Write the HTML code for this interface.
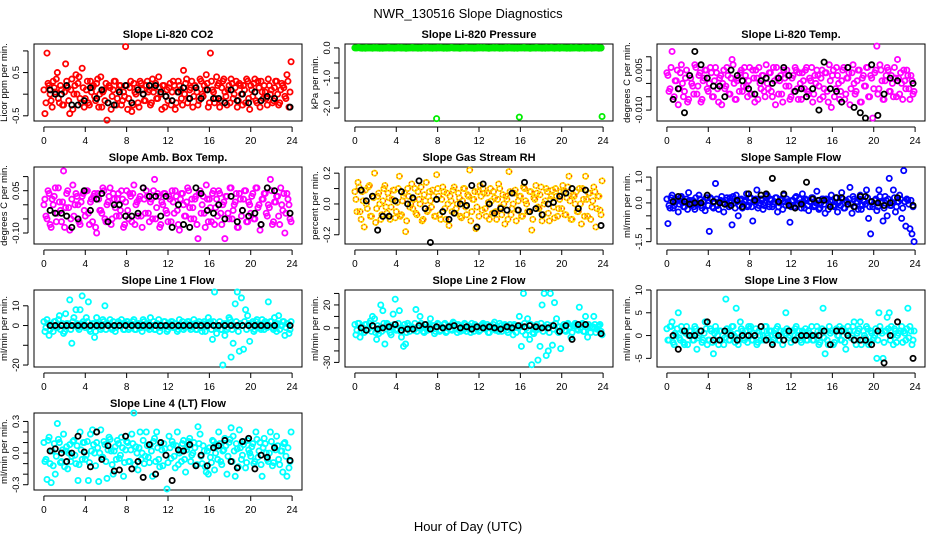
<!DOCTYPE html>
<html><head><meta charset="utf-8"><title>NWR_130516 Slope Diagnostics</title>
<style>
html,body{margin:0;padding:0;background:#fff;}
svg{display:block;font-family:"Liberation Sans",Arial,sans-serif;}
</style></head>
<body>
<svg id="chart" width="936" height="540" viewBox="0 0 936 540" xmlns="http://www.w3.org/2000/svg">
<rect x="0" y="0" width="936" height="540" fill="#fff"/>
<text x="468" y="18" text-anchor="middle" font-size="13">NWR_130516  Slope Diagnostics</text>
<text x="468" y="531" text-anchor="middle" font-size="13">Hour of Day (UTC)</text>
</svg>
<script>
// ---- shared x values (hour of day) ----
const hours = [0.1,0.3,0.5,0.7,0.9,1.1,1.3,1.5,1.7,1.9,2.1,2.3,2.5,2.7,2.9,3.1,3.3,3.5,3.7,3.9,
4.1,4.3,4.5,4.7,4.9,5.1,5.3,5.5,5.7,5.9,6.1,6.3,6.5,6.7,6.9,7.1,7.3,7.5,7.7,7.9,
8.1,8.3,8.5,8.7,8.9,9.1,9.3,9.5,9.7,9.9,10.1,10.3,10.5,10.7,10.9,11.1,11.3,11.5,11.7,11.9,
12.1,12.3,12.5,12.7,12.9,13.1,13.3,13.5,13.7,13.9,14.1,14.3,14.5,14.7,14.9,15.1,15.3,15.5,15.7,15.9,
16.1,16.3,16.5,16.7,16.9,17.1,17.3,17.5,17.7,17.9,18.1,18.3,18.5,18.7,18.9,19.1,19.3,19.5,19.7,19.9,
20.1,20.3,20.5,20.7,20.9,21.1,21.3,21.5,21.7,21.9,22.1,22.3,22.5,22.7,22.9,23.1,23.3,23.5,23.7,23.9];
const hours2 = [0.0,0.2,0.4,0.6,0.8,1.0,1.2,1.4,1.6,1.8,2.0,2.2,2.4,2.6,2.8,3.0,3.2,3.4,3.6,3.8,
4.0,4.2,4.4,4.6,4.8,5.0,5.2,5.4,5.6,5.8,6.0,6.2,6.4,6.6,6.8,7.0,7.2,7.4,7.6,7.8,
8.0,8.2,8.4,8.6,8.8,9.0,9.2,9.4,9.6,9.8,10.0,10.2,10.4,10.6,10.8,11.0,11.2,11.4,11.6,11.8,
12.0,12.2,12.4,12.6,12.8,13.0,13.2,13.4,13.6,13.8,14.0,14.2,14.4,14.6,14.8,15.0,15.2,15.4,15.6,15.8,
16.0,16.2,16.4,16.6,16.8,17.0,17.2,17.4,17.6,17.8,18.0,18.2,18.4,18.6,18.8,19.0,19.2,19.4,19.6,19.8,
20.0,20.2,20.4,20.6,20.8,21.0,21.2,21.4,21.6,21.8,22.0,22.2,22.4,22.6,22.8,23.0,23.2,23.4,23.6,23.8];
const blackHours = [0.6,1.1,1.7,2.2,2.7,3.3,3.9,4.5,5.1,5.6,6.2,6.8,7.3,7.9,8.5,9.1,9.6,10.2,10.8,11.3,
11.8,12.4,13.0,13.5,14.1,14.7,15.2,15.8,16.4,16.9,17.5,18.1,18.7,19.2,19.8,20.4,21.0,21.6,22.3,23.8];
const xTicks = [0,4,8,12,16,20,24];

// ---- series values ----
const co2 = [-.45,.95,.2,-.15,.3,.05,.5,-.2,.1,-.25,.7,.15,-.45,.35,.0,.45,.25,-.1,.6,-.3,
.1,-.2,.3,.15,-.05,.25,-.3,.4,.05,-.15,-.6,.2,-.35,.1,.3,-.1,.2,-.25,.05,1.1,
-.35,.15,-.4,.25,.0,-.2,.3,.1,-.15,.2,.05,-.25,.35,.15,-.1,.4,.0,.2,-.3,.1,
.15,-.25,.3,-.35,.05,.2,-.1,.55,.25,-.2,.1,.3,-.05,.15,-.25,.35,.0,.2,.45,-.3,
.95,.1,-.2,.4,.25,-.15,.3,.05,-.25,.2,.35,-.1,.15,-.3,.25,.0,.2,-.2,.3,-.35,
.1,.25,-.15,.3,-.3,.05,.2,-.1,.35,.0,-.2,.15,.3,-.25,.1,.2,-.05,.45,-.3,.75];
const co2b = [.1,-.2,.25,.0,-.3,.15,.35,-.1,.2,-.25,.05,.3,-.15,.1,-.35,.2,.0,.4,-.2,.15,
-.1,.3,-.25,.05,.2,-.15,.35,.0,-.3,.1,.25,-.2,.15,-.05,.3,-.25,.1,.2,-.15,-.05,
.2,-.1,.3,-.25,.05,.15,-.3,.25,.0,-.15,.3,.1,-.2,.05,.25,-.1,.15,-.35,.2,-.05,
-.15,.25,.05,.2,-.2,.3,.1,-.25,.0,.35,-.1,.15,-.3,.2,.05,-.15,.3,-.05,.1,.25,
-.2,.3,.05,-.1,.2,-.3,.15,.35,-.05,.1,-.2,.25,.0,.3,-.15,.2,-.25,.1,.35,-.1,
.2,-.05,.35,-.2,.15,.3,-.1,.05,-.25,.2,.1,-.15,.3,.0,-.2,.25,.15,-.1,.3,.05];
const co2Black = [.1,0,0,.2,-.25,-.25,-.15,.15,-.1,.1,-.2,-.25,.05,.2,-.2,.1,.0,.2,.2,.05,-.05,-.15,.05,.15,-.1,.15,-.1,.1,-.1,-.1,-.2,.1,-.15,0,-.2,.05,-.15,-.05,-.1,-.3];

const pressure = [0,.01,0,-.01,0,.01,0,0,-.01,0,.01,0,0,-.01,0,0,.01,0,0,0,
0,0,.01,0,-.01,0,0,.01,0,0,-.01,0,0,.01,0,0,0,-.01,0,-2.35,
0,.01,0,0,-.01,0,.01,0,0,0,-.01,0,0,.01,0,0,0,-.01,0,.01,
0,0,.01,0,-.01,0,0,0,.01,0,0,-.01,0,0,.01,0,0,0,-.01,-2.3,
0,.01,0,0,-.01,0,0,.01,0,0,-.01,0,.01,0,0,0,-.01,0,.01,0,
0,0,-.01,0,.01,0,0,0,-.01,0,.01,0,0,0,-.01,0,.01,0,0,-2.28];
const pressureb = [0,0,.01,0,0,-.01,0,0,0,.01,0,0,-.01,0,0,0,.01,0,0,-.01,
0,.01,0,0,0,-.01,0,0,.01,0,0,0,-.01,0,0,.01,0,0,0,0,
.01,0,0,-.01,0,0,0,.01,0,0,0,-.01,0,0,.01,0,0,0,-.01,0,
0,.01,0,0,0,-.01,0,.01,0,0,-.01,0,0,.01,0,0,0,-.01,0,0,
0,0,.01,0,0,-.01,0,0,.01,0,0,0,-.01,0,0,.01,0,0,0,-.01,
.01,0,0,0,-.01,0,0,.01,0,0,0,-.01,0,0,.01,0,0,0,-.01,0];
const pressureBlack = [0,0,0,0,0,0,0,0,0,0,0,0,0,0,0,0,0,0,0,0,0,0,0,0,0,0,0,0,0,0,0,0,0,0,0,0,0,0,0,0];

const licorTemp = [.003,-.002,.012,-.005,.001,-.008,.004,.0,-.003,.005,-.006,.002,-.001,.007,-.004,.003,-.007,.001,.005,-.002,
.0,.004,-.005,.006,-.002,.002,-.008,.005,-.001,.003,-.004,.009,.0,-.006,.002,.004,-.003,.006,-.001,.001,
-.004,.005,-.007,.002,.006,-.002,.003,-.005,.0,.004,-.003,.006,-.008,.002,.001,-.004,.005,-.001,.003,-.006,
.002,-.003,.005,-.006,.0,.004,-.002,.006,-.004,.001,-.007,.003,.005,-.001,.002,-.005,.004,-.003,.007,-.009,
.005,-.002,.003,-.006,.001,.006,-.004,.002,-.008,.004,.0,-.003,.005,-.007,.002,-.001,.006,-.005,.003,-.013,
.004,.014,-.002,.005,-.006,.001,.006,-.003,.003,-.005,.002,.009,-.004,.0,.005,-.002,.003,-.006,.001,-.003];
const licorTempb = [.004,-.003,.006,-.006,.001,.005,-.002,.007,-.005,.002,-.007,.003,.0,-.004,.006,-.001,.004,-.006,.002,.005,
-.003,.006,-.005,.001,.004,-.007,.003,.0,-.002,.006,-.004,.002,.007,-.006,.001,-.003,.005,-.001,.003,-.005,
.006,-.004,.002,.005,-.006,.0,.003,-.003,.007,-.002,.004,-.005,.001,.006,-.004,.003,-.007,.002,.005,-.001,
-.005,.003,.006,-.002,.004,-.006,.001,.005,-.003,.002,.006,-.004,.0,.003,-.006,.005,-.002,.004,-.007,.001,
.003,-.005,.006,.0,-.003,.005,-.006,.002,.004,-.002,.007,-.004,.001,.005,-.007,.003,-.001,.006,-.005,.002,
-.002,.005,-.004,.007,.001,-.006,.003,.005,-.003,.0,.006,-.005,.002,.004,-.006,.001,.005,-.002,.003,-.004];
const licorTempBlack = [-.006,-.002,-.011,.003,.012,.007,.002,-.001,-.001,-.005,.005,.003,.001,-.002,-.004,.001,.002,.0,.002,.006,
.003,-.003,-.002,-.005,-.002,-.01,.008,-.002,-.003,-.007,.006,-.009,-.011,-.013,.007,-.012,-.004,.002,.001,.0];

const ambTemp = [.02,-.05,.04,-.08,.0,.06,-.03,.01,-.06,.12,-.01,.05,-.09,.02,-.04,.04,.0,-.07,.03,-.02,
.05,-.03,.01,-.06,.04,-.1,.02,-.02,.06,-.05,.0,.03,-.07,.04,-.01,.02,-.04,.05,-.08,.01,
-.02,.04,-.06,.07,.0,-.04,.03,-.08,.02,.05,-.03,.01,-.05,.09,-.01,.03,-.07,.0,.04,-.03,
.03,-.06,.01,.05,-.02,-.09,.04,.0,-.04,.06,-.01,.02,-.05,.03,-.12,.05,.0,-.03,.07,-.06,
-.01,.04,-.07,.02,.05,-.03,.0,-.12,.03,-.05,.06,-.02,.01,-.08,.04,-.04,.02,.05,-.06,.0,
.03,-.05,.06,-.01,-.09,.02,.04,-.03,.0,.09,-.07,.01,.03,-.04,.06,-.02,-.1,.04,.0,-.06];
const ambTempb = [.0,-.04,.05,-.07,.02,.03,-.06,.06,-.02,.01,-.08,.04,-.01,-.05,.07,.0,.03,-.06,.01,.04,
-.04,.05,-.07,.02,.03,-.08,.04,-.02,-.03,.05,-.06,.01,.06,-.05,.02,-.04,.04,-.02,.02,-.07,
.05,-.05,.03,.04,-.07,.01,.02,-.04,.06,-.03,.03,-.06,.02,.05,-.05,.04,-.08,.01,.04,-.02,
-.06,.02,.05,-.03,.03,-.07,.02,.04,-.04,.01,.05,-.05,-.01,.02,-.07,.04,-.03,.03,-.08,.02,
.02,-.06,.05,-.01,-.04,.04,-.07,.01,.03,-.03,.06,-.05,.0,.04,-.08,.02,-.02,.05,-.06,.01,
-.03,.04,-.05,.06,.0,-.07,.02,.04,-.04,-.01,.05,-.06,.01,.03,-.07,.0,.04,-.03,.02,-.05];
const ambTempBlack = [-.02,-.03,-.03,-.04,-.08,-.05,.05,-.02,.02,.04,-.06,.0,.0,-.04,-.04,-.03,.06,.03,.03,-.04,
.03,-.08,.0,-.07,-.08,.06,.04,-.02,-.03,.0,-.05,.03,-.06,-.02,-.04,-.03,-.07,.06,.05,-.03];

const gasRH = [.03,.14,-.05,.08,-.15,.0,.11,-.08,.05,.2,-.03,.07,-.1,.02,.12,-.06,.04,-.02,.09,-.09,
.01,.18,-.07,.05,-.18,.1,-.02,.13,.03,-.06,.08,.0,-.11,.06,.14,-.04,.02,.09,-.08,.19,
.05,-.1,.11,-.03,.07,-.14,.02,.09,-.06,.0,.04,-.09,.1,-.02,.06,.22,-.05,.03,-.16,.08,
.12,-.04,.07,-.08,.01,.1,-.06,.04,-.1,.13,-.02,.06,-.13,.03,.21,-.07,.0,.09,-.04,.05,
-.08,.11,.02,-.05,.08,-.17,.04,.12,-.02,.06,-.11,.0,.1,-.06,.03,.09,-.09,.05,-.03,.08,
.12,-.07,.04,.18,-.1,.06,.0,-.05,.1,-.13,.03,.18,-.08,.07,-.02,.11,-.15,.05,-.04,.15];
const gasRHb = [.08,-.05,.11,-.1,.02,.09,-.03,.12,-.08,.04,-.12,.05,.0,-.07,.1,-.02,.07,-.1,.03,.09,
-.05,.1,-.08,.02,.07,-.11,.05,.0,-.03,.1,-.07,.03,.11,-.1,.02,-.05,.08,-.02,.05,-.08,
.1,-.07,.03,.08,-.1,.0,.05,-.05,.11,-.03,.07,-.08,.02,.1,-.07,.05,-.11,.03,.08,-.02,
-.08,.05,.1,-.03,.07,-.1,.02,.08,-.05,.03,.1,-.07,.0,.05,-.1,.08,-.03,.07,-.11,.02,
.05,-.08,.1,.0,-.05,.08,-.1,.03,.07,-.03,.11,-.07,.02,.08,-.11,.05,-.02,.1,-.08,.03,
-.03,.08,-.07,.11,.02,-.1,.05,.08,-.05,.0,.1,-.08,.03,.07,-.1,.02,.08,-.03,.05,-.07];
const gasRHBlack = [.09,.02,.05,-.17,-.08,-.08,.02,.08,.0,.04,.15,-.03,-.25,.03,-.05,-.1,-.06,.0,-.01,.12,
-.15,.13,.0,-.06,-.03,-.04,.07,-.04,.14,-.05,-.03,-.07,.0,.01,.05,.07,.1,-.03,.09,-.14];

const sampleFlow = [-.8,-.2,.3,-.1,.05,-.35,.2,.0,-.15,.15,.4,-.05,.1,-.25,.0,.3,-.1,.05,-.3,.2,
-1.1,.15,-.2,.75,-.1,.05,.25,-.35,.1,-.05,.2,-.85,.0,.3,-.5,.1,-.2,.05,.35,-.1,
.2,-.7,.05,.5,-.1,.15,-.25,.0,.3,-.15,.1,-.05,.2,-.35,.0,.15,.3,-.1,.05,-.75,
.1,-.15,.25,-.05,.0,.35,-.2,.1,-.3,.05,.2,-.1,.45,-.25,.0,.15,-.4,.1,-.05,.3,
-.1,.2,-.35,.05,.4,-.2,.1,-.05,.6,-.4,.15,.0,-.25,.3,-.1,.05,.5,-.6,-1.2,-.15,
.1,-.3,.5,.0,-.7,.25,-.5,.95,-.1,.5,-.35,.05,.3,-.6,1.25,-.9,.1,-1.0,-1.2,-1.5];
const sampleFlowb = [.15,-.1,.2,-.2,.05,.15,-.05,.25,-.15,.05,-.25,.1,.0,-.15,.2,-.05,.15,-.2,.05,.2,
-.1,.2,-.15,.05,.15,-.25,.1,.0,-.05,.2,-.15,.05,.25,-.2,.05,-.1,.15,-.05,.1,-.15,
.2,-.15,.05,.15,-.2,.0,.1,-.1,.25,-.05,.15,-.15,.05,.2,-.15,.1,-.25,.05,.15,-.05,
-.15,.1,.2,-.05,.15,-.2,.05,.15,-.1,.05,.2,-.15,.0,.1,-.2,.15,-.05,.15,-.25,.05,
.1,-.15,.2,.0,-.1,.15,-.2,.05,.15,-.05,.25,-.15,.05,.15,-.25,.1,-.05,.2,-.15,.05,
-.05,.15,-.15,.25,.05,-.2,.1,.15,-.1,.0,.2,-.15,.05,.15,-.2,.05,.15,-.05,.1,-.15];
const sampleFlowBlack = [.05,.25,.05,-.05,.0,.0,.3,.05,.0,-.05,-.1,.1,-.15,.35,.1,.3,.35,.95,.05,.35,
-.1,-.2,-.05,.8,.15,.1,.1,-.15,.2,.2,-.05,-.15,.25,.25,.05,.0,-.1,.0,.2,-.1];

const line1Flow = [-3,3,-5,0,-3,2,-1,5,0,-4,6,1,13,-9,4,8,-1,8,15,1,
4,12,-3,1,-6,4,0,-2,3,10,1,0,-1,2,-3,1,0,3,-2,1,
2,-1,0,3,-2,1,0,-3,2,1,-1,4,0,-2,1,3,-1,0,2,-3,
0,2,-1,1,-3,3,0,-2,1,2,-1,0,3,-2,1,0,-3,2,1,4,
2,-7,17,-4,0,-2,-20,-5,-2,4,-16,-9,11,17,-13,14,-12,8,5,-8,
1,-3,2,0,-1,3,-2,1,12,2,-1,4,-3,5,0,2,-5,1,-4,2];
const line1Flowb = [2,-1,1,-2,0,2,-1,3,-2,1,-3,1,0,-2,2,0,1,-2,1,2,
-1,2,-2,0,1,-3,1,0,-1,2,-2,1,3,-2,0,-1,2,0,1,-2,
2,-2,1,2,-2,0,1,-1,3,-1,1,-2,0,2,-2,1,-3,0,2,0,
-2,1,2,-1,1,-2,0,2,-1,1,2,-2,0,1,-2,2,-1,1,-3,0,
1,-2,2,0,-1,2,-2,1,1,-1,3,-2,0,2,-3,1,0,2,-2,1,
-1,2,-2,3,0,-2,1,2,-1,0,2,-2,1,1,-2,0,2,-1,1,-2];
const line1FlowBlack = [0,0,0,0,0,0,0,0,0,0,0,0,0,0,0,0,0,0,0,0,0,0,0,0,0,0,0,0,0,0,0,0,0,0,0,0,0,0,0,0];

const line2Flow = [-6,4,-8,0,-4,3,-1,6,10,8,-10,-5,20,15,-14,4,0,-6,12,25,
-1,15,-8,-16,-14,4,-3,1,-2,16,0,10,2,-4,3,-1,8,2,-5,1,
3,-2,0,4,-3,1,-1,5,0,-4,2,1,-2,3,0,-1,4,-3,1,0,
-2,3,0,1,-4,2,0,5,-1,-3,2,0,3,-2,1,0,-6,2,1,10,
-16,30,-6,8,-10,-32,-5,-2,-28,-16,20,30,-24,-20,30,-15,22,8,-4,-18,
1,-2,3,0,-8,2,4,-1,18,3,-3,10,-8,1,0,10,-4,1,3,-6];
const line2Flowb = [3,-2,4,-3,0,3,-1,4,-3,1,-4,2,0,-3,4,-1,3,-4,1,3,
-2,4,-3,0,3,-4,2,0,-1,4,-3,1,4,-3,0,-2,3,-1,2,-3,
4,-3,1,3,-4,0,2,-2,4,-1,3,-3,1,4,-3,2,-4,1,3,-1,
-3,2,4,-1,3,-4,1,3,-2,1,4,-3,0,2,-4,3,-1,3,-4,1,
2,-3,4,0,-2,3,-4,1,3,-1,4,-3,1,3,-4,2,-1,4,-3,1,
-1,3,-3,4,1,-4,2,3,-2,0,4,-3,1,3,-4,1,3,-1,2,-3];
const line2FlowBlack = [0,-2,2,-1,0,1,3,-2,-1,-1,2,3,-1,1,0,1,2,0,1,-1,
1,0,1,0,-1,1,0,2,1,2,1,0,0,2,-3,2,-10,3,3,-5];

const line3Flow = [-1,2,3,-2,0,5,-1,1,-2,2,0,1,-1,2,-3,0,1,-1,3,-2,
-1,1,-4,2,0,1,-1,-2,8,1,-1,2,0,6,-2,3,1,-1,0,2,
2,-1,0,-2,1,-1,0,2,0,1,1,-1,0,2,-1,0,1,5,1,0,
1,-1,2,0,-1,1,0,-1,1,0,-1,0,2,-2,1,6,-4,-1,2,1,
-2,1,0,2,-1,1,-3,2,1,0,3,-2,1,3,-1,0,2,-2,1,-1,
0,-5,5,1,-5,1,4,5,2,-2,1,0,1,2,1,-1,6,2,-2,1];
const line3Flowb = [1.5,-1,2,-1.5,0.5,1.5,-0.5,2,-1.5,0.5,-2,1,0,-1,1.5,-0.5,1,-1.5,0.5,1.5,
-1,1.5,-1.5,0.5,1,-2,1,0,-0.5,1.5,-1,0.5,2,-1.5,0.5,-1,1.5,-0.5,1,-1.5,
1.5,-1,0.5,1.5,-1.5,0,1,-1,2,-0.5,1,-1.5,0.5,1.5,-1,1,-2,0.5,1.5,-0.5,
-1.5,1,1.5,-0.5,1,-1.5,0.5,1.5,-1,0.5,2,-1,0,1,-1.5,1.5,-0.5,1,-2,0.5,
1,-1.5,1.5,0,-1,1.5,-1.5,0.5,1,-0.5,2,-1,0.5,1.5,-2,1,-0.5,1.5,-1.5,0.5,
-0.5,1.5,-1,2,0.5,-1.5,1,1.5,-1,0,1.5,-1.5,0.5,1,-1.5,0.5,1.5,-0.5,1,-1];
const line3FlowBlack = [0,-3,1,0,0,1,3,-1,-1,1,0,-1,0,0,0,2,-1,-2,0,-1,
1,-1,0,0,0,0,1,-2,1,1,0,-1,-1,-1,-2,1,-6,0,3,-5];

const line4Flow = [-.08,-.25,.15,-.28,-.12,-.2,.28,.1,-.08,.18,.02,-.15,.08,-.03,.12,-.1,-.26,.2,-.06,.1,
-.02,-.26,.18,.22,.0,.1,-.27,.22,-.04,.08,-.24,.15,.02,-.2,.06,.12,-.05,.15,-.22,.03,
.1,-.08,.18,.38,.06,-.16,.2,.0,-.1,.2,-.04,.08,-.22,.14,.2,-.06,.1,-.12,.04,-.34,
.16,-.05,.08,-.14,.2,.0,-.08,.12,-.18,.06,.14,-.02,.1,-.12,.25,.18,-.1,.02,-.18,-.2,
-.04,.12,-.16,.06,.2,-.08,.02,.14,-.2,.1,.24,.16,-.22,.04,.22,-.06,.08,-.14,.12,.0,
.06,-.1,.2,-.04,.1,-.22,.14,.0,-.08,.2,-.12,.06,.16,-.06,.02,-.18,.1,-.22,-.14,.2];
const line4Flowb = [.1,-.06,.12,-.1,.02,.09,-.03,.13,-.09,.03,-.13,.06,.0,-.08,.11,-.02,.07,-.11,.03,.1,
-.06,.11,-.09,.02,.08,-.12,.05,.0,-.04,.11,-.08,.03,.13,-.11,.02,-.06,.09,-.02,.05,-.09,
.11,-.08,.03,.09,-.11,.0,.05,-.06,.12,-.03,.07,-.09,.02,.11,-.08,.05,-.13,.03,.09,-.02,
-.09,.05,.11,-.03,.07,-.11,.02,.09,-.06,.03,.11,-.08,.0,.05,-.11,.09,-.03,.07,-.13,.02,
.05,-.09,.11,.0,-.06,.09,-.11,.03,.07,-.03,.13,-.08,.02,.09,-.13,.05,-.02,.11,-.09,.03,
-.03,.09,-.08,.13,.02,-.11,.05,.09,-.06,.0,.11,-.09,.03,.07,-.11,.02,.09,-.03,.05,-.08];
const line4FlowBlack = [.02,.04,.0,-.08,.0,.16,.01,-.13,.2,-.06,.07,-.17,-.16,.16,-.15,-.08,-.23,.08,-.2,.1,
-.02,-.26,.03,.02,.08,-.12,-.02,-.12,.05,.07,.12,-.08,-.14,.11,.14,-.15,-.02,-.04,.05,-.07];

// ---- panel layout ----
const colLeft = [34, 345, 657];
const rowTop = [44, 167, 290, 413];
const BW = 268, BH = 77;
const panels = [
 {name:'co2', title:'Slope Li-820 CO2', ylab:'Licor ppm per min.', col:0,row:0, yT:1.16, yB:-0.62, ticks:[1.0,0.5,0,-0.5], labels:{'0.5':'0.5','-0.5':'-0.5'}, color:'#ff0000', v:co2, v2:co2b, b:co2Black},
 {name:'pressure', title:'Slope Li-820 Pressure', ylab:'kPa per min.', col:1,row:0, yT:0.13, yB:-2.43, ticks:[0,-0.5,-1,-1.5,-2], labels:{'0':'0.0','-1':'-1.0','-2':'-2.0'}, color:'#00ee00', v:pressure, v2:pressureb, b:pressureBlack, blackFirst:true},
 {name:'licor-temp', title:'Slope Li-820 Temp.', ylab:'degrees C per min.', col:2,row:0, yT:0.0148, yB:-0.0141, ticks:[0.01,0.005,0,-0.005,-0.01], labels:{'0.005':'0.005','-0.01':'-0.010'}, color:'#ff00ff', v:licorTemp, v2:licorTempb, b:licorTempBlack},
 {name:'amb-box-temp', title:'Slope Amb. Box Temp.', ylab:'degrees C per min.', col:0,row:1, yT:0.134, yB:-0.139, ticks:[0.1,0.05,0,-0.05,-0.1], labels:{'0.05':'0.05','-0.1':'-0.10'}, color:'#ff00ff', v:ambTemp, v2:ambTempb, b:ambTempBlack},
 {name:'gas-stream-rh', title:'Slope Gas Stream RH', ylab:'percent per min.', col:1,row:1, yT:0.24, yB:-0.26, ticks:[0.2,0.1,0,-0.1,-0.2], labels:{'0.2':'0.2','0':'0.0','-0.2':'-0.2'}, color:'#ffe000', dash:'#ff3000', v:gasRH, v2:gasRHb, b:gasRHBlack},
 {name:'sample-flow', title:'Slope Sample Flow', ylab:'ml/min per min.', col:2,row:1, yT:1.39, yB:-1.59, ticks:[1,0.5,0,-0.5,-1,-1.5], labels:{'1':'1.0','0':'0.0','-1.5':'-1.5'}, color:'#0000ff', v:sampleFlow, v2:sampleFlowb, b:sampleFlowBlack},
 {name:'line1-flow', title:'Slope Line 1 Flow', ylab:'ml/min per min.', col:0,row:2, yT:18, yB:-21, ticks:[10,0,-10,-20], labels:{'10':'10','0':'0','-20':'-20'}, color:'#00ffff', v:line1Flow, v2:line1Flowb, b:line1FlowBlack},
 {name:'line2-flow', title:'Slope Line 2 Flow', ylab:'ml/min per min.', col:1,row:2, yT:33, yB:-34, ticks:[30,20,10,0,-10,-20,-30], labels:{'20':'20','0':'0','-30':'-30'}, color:'#00ffff', v:line2Flow, v2:line2Flowb, b:line2FlowBlack},
 {name:'line3-flow', title:'Slope Line 3 Flow', ylab:'ml/min per min.', col:2,row:2, yT:10, yB:-6.9, ticks:[10,5,0,-5], labels:{'10':'10','5':'5','0':'0','-5':'-5'}, color:'#00ffff', v:line3Flow, v2:line3Flowb, b:line3FlowBlack},
 {name:'line4-flow', title:'Slope Line 4 (LT) Flow', ylab:'ml/min per min.', col:0,row:3, yT:0.38, yB:-0.35, ticks:[0.3,0.2,0.1,0,-0.1,-0.2,-0.3], labels:{'0.3':'0.3','0':'0.0','-0.3':'-0.3'}, color:'#00ffff', v:line4Flow, v2:line4Flowb, b:line4FlowBlack}
];

const NS = 'http://www.w3.org/2000/svg';
const svg = document.getElementById('chart');
function mk(tag, attrs, parent){
  const e = document.createElementNS(NS, tag);
  for (const k in attrs) e.setAttribute(k, attrs[k]);
  (parent||svg).appendChild(e);
  return e;
}

panels.forEach(p => {
  const L = colLeft[p.col], T = rowTop[p.row];
  const g = mk('g', {});
  
  
  const xs = h => L + 9.9 + h * (BW - 19.8) / 24;
  const ys = v => T + (p.yT - v) / (p.yT - p.yB) * BH;

  const title = mk('text', {x: L + BW/2, y: T - 6, 'text-anchor':'middle', 'font-size':11, 'font-weight':'bold'}, g);
  title.textContent = p.title;
  
  

  const box = mk('rect', {x:L, y:T, width:BW, height:BH, fill:'none', stroke:'#000', 'stroke-width':1}, g);
  
  

  const xa = mk('g', {}, g);
  
  
  const by = T + BH + 6;
  mk('line', {x1:xs(xTicks[0]), x2:xs(xTicks[xTicks.length-1]), y1:by, y2:by, stroke:'#000'}, xa);
  xTicks.forEach(t => {
    mk('line', {x1:xs(t), x2:xs(t), y1:by, y2:by+5, stroke:'#000'}, xa);
    const tl = mk('text', {x:xs(t), y:by+17, 'text-anchor':'middle', 'font-size':10}, xa);
    tl.textContent = String(t);
    
    
  });

  const ya = mk('g', {}, g);
  
  
  const ax = L - 6;
  mk('line', {x1:ax, x2:ax, y1:ys(p.ticks[0]), y2:ys(p.ticks[p.ticks.length-1]), stroke:'#000'}, ya);
  p.ticks.forEach(t => {
    mk('line', {x1:ax-5, x2:ax, y1:ys(t), y2:ys(t), stroke:'#000'}, ya);
    const key = String(t);
    if (p.labels[key] !== undefined) {
      const yl = mk('text', {x:ax-9, y:ys(t), 'text-anchor':'middle', 'font-size':9.5, transform:'rotate(-90 '+(ax-9)+' '+ys(t)+')'}, ya);
      yl.textContent = p.labels[key];
      
      
    }
  });
  const yt = mk('text', {x:L-27, y:T+BH/2, 'text-anchor':'middle', 'font-size':9.5, transform:'rotate(-90 '+(L-27)+' '+(T+BH/2)+')'}, g);
  yt.textContent = p.ylab;
  
  

  const drawSeries = (xarr, varr, color, dash, nm) => {
    const sg = mk('g', {}, g);
    
    
    varr.forEach((v, i) => {
      const c = mk('circle', {cx:xs(xarr[i]), cy:ys(v), r:2.6, fill:'none', stroke:color, 'stroke-width':1.8}, sg);
      
      
      if (dash) {
        const c2 = mk('circle', {cx:xs(xarr[i]), cy:ys(v), r:2.6, fill:'none', stroke:dash, 'stroke-width':1.2, 'stroke-dasharray':'0.8 2.2'}, sg);
        
        
      }
    });
  };
  if (p.blackFirst) {
    drawSeries(blackHours, p.b, '#000', null, 'reference');
    drawSeries(hours2, p.v2, p.color, p.dash, 'slope-b');
    drawSeries(hours, p.v, p.color, p.dash, 'slope');
  } else {
    drawSeries(hours2, p.v2, p.color, p.dash, 'slope-b');
    drawSeries(hours, p.v, p.color, p.dash, 'slope');
    drawSeries(blackHours, p.b, '#000', null, 'reference');
  }
});
</script>
</body></html>
